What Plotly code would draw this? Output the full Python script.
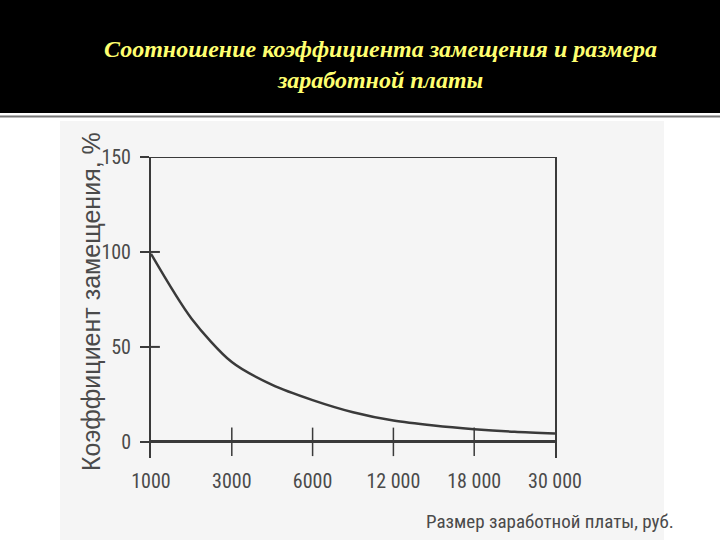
import plotly.graph_objects as go

# salary categories (equally spaced on the chart)
salary_labels = ["1000", "3000", "6000", "12 000", "18 000", "30 000"]
salary_pos = [0, 1, 2, 3, 4, 5]
# replacement ratio, % at every half step between categories
curve_pos = [0, 0.5, 1, 1.5, 2, 2.5, 3, 3.5, 4, 4.5, 5]
replacement_pct = [99, 65, 42, 30, 22, 15.6, 11.2, 8.6, 6.7, 5.3, 4.4]
y_ticks = [0, 50, 100, 150]

INK = "#3a3a3a"
TEXT = "#4a4a4a"
NARROW = "Liberation Sans Narrow, Arial Narrow, Roboto Condensed, sans-serif"

# page size and plot-area margins (px)
W, H = 720, 540
L, R, T, B = 151, 165, 157, 82
pw, ph = W - L - R, H - T - B


def px(xp):
    return (xp - L) / pw


def py(yp):
    return (H - B - yp) / ph


fig = go.Figure()

fig.add_trace(go.Scatter(
    x=curve_pos, y=replacement_pct,
    mode="lines",
    line=dict(color=INK, width=2.5, shape="spline", smoothing=0.8),
    hoverinfo="skip", showlegend=False,
))

fig.update_layout(
    width=W, height=H,
    margin=dict(l=L, r=R, t=T, b=B),
    paper_bgcolor="white",
    plot_bgcolor="rgba(0,0,0,0)",
    showlegend=False,
    xaxis=dict(
        range=[0, 5], tickvals=salary_pos, ticktext=salary_labels,
        showgrid=False, zeroline=False, showline=False, ticks="",
        tickfont=dict(family=NARROW, size=20, color=TEXT),
        ticklabelstandoff=9,
    ),
    yaxis=dict(
        range=[-8.5, 150], tickvals=y_ticks,
        showgrid=False, zeroline=True, zerolinecolor=INK, zerolinewidth=2.5,
        showline=True, mirror=True, linecolor=INK, linewidth=2,
        ticks="outside", ticklen=9, tickwidth=2, tickcolor=INK,
        tickfont=dict(family=NARROW, size=20, color=TEXT),
        ticklabelstandoff=5,
    ),
)

shapes = [
    # black header band and separator line
    dict(type="rect", xref="paper", yref="paper", x0=px(0), x1=px(720),
         y0=py(113), y1=py(0), fillcolor="black", line_width=0, layer="below"),
    dict(type="line", xref="paper", yref="paper", x0=px(0), x1=px(720),
         y0=py(116.5), y1=py(116.5), line=dict(color="#777777", width=2)),
    # light grey scanned area
    dict(type="rect", xref="paper", yref="paper", x0=px(60), x1=px(664),
         y0=py(540), y1=py(121), fillcolor="#f5f5f5", line_width=0, layer="below"),
    # top border at 150
    dict(type="line", xref="x", yref="y", x0=0, x1=5, y0=150, y1=150,
         line=dict(color=INK, width=2)),
]
# x tick marks crossing the zero line
for p in salary_pos[1:-1]:
    shapes.append(dict(type="line", xref="x", yref="y", x0=p, x1=p, y0=-7.5, y1=7.5,
                       line=dict(color=INK, width=1.5)))
# inner part of the y tick marks at 50 and 100
for v in y_ticks[1:3]:
    shapes.append(dict(type="line", xref="x", yref="y", x0=0, x1=0.11, y0=v, y1=v,
                       line=dict(color=INK, width=2)))
fig.update_layout(shapes=shapes)

fig.add_annotation(
    xref="paper", yref="paper", x=px(380), y=py(64),
    xanchor="center", yanchor="middle",
    text="Соотношение коэффициента замещения и размера<br>заработной платы",
    showarrow=False, align="center",
    font=dict(family="Liberation Serif, Times New Roman, serif", size=24, color="#ffff70",
              style="italic", weight="bold"),
)
fig.add_annotation(
    xref="paper", yref="paper", x=px(91), y=py(302),
    xanchor="center", yanchor="middle",
    text="Коэффициент замещения, %", textangle=-90, showarrow=False,
    font=dict(family="Liberation Sans, Arial, sans-serif", size=25, color=TEXT),
)
fig.add_annotation(
    xref="paper", yref="paper", x=px(550), y=py(521),
    xanchor="center", yanchor="middle",
    text="Размер заработной платы, руб.", showarrow=False,
    font=dict(family=NARROW, size=19, color=TEXT),
)

fig.write_html("out.html", config={"displayModeBar": False},
               post_script="document.body.style.margin='0';")
